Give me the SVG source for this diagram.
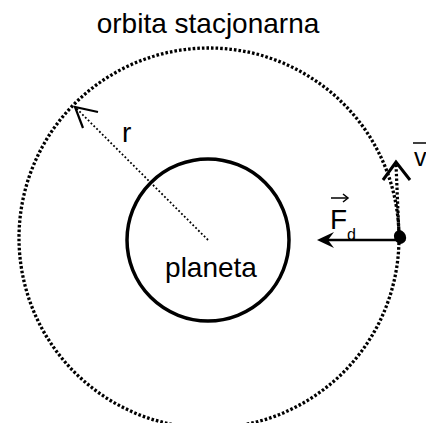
<svg xmlns="http://www.w3.org/2000/svg" width="426" height="423" viewBox="0 0 426 423">
<style>
text{font-family:"Liberation Sans",Arial,sans-serif;fill:#000}
.dots{fill:none;stroke:#000;stroke-linecap:butt}
.solid{fill:none;stroke:#000}
</style>
<rect width="426" height="423" fill="#fff"/>
<g id="orbit">
<circle cx="209" cy="238" r="190" class="dots" stroke-width="3.3" stroke-dasharray="2.6 2"/>
<text x="208" y="33" font-size="28" text-anchor="middle">orbita stacjonarna</text>
</g>
<g id="planet">
<circle cx="208" cy="240" r="81" class="solid" stroke-width="3.5"/>
<text x="211" y="277" font-size="28" text-anchor="middle">planeta</text>
</g>
<g id="connectors">
<g id="radius">
<line x1="208" y1="240" x2="76" y2="108" class="dots" stroke-width="1.8" stroke-dasharray="1.8 2.2"/>
<polyline points="98,112 75,107 83,128" class="solid" stroke-width="2.2"/>
<text x="122" y="142" font-size="28">r</text>
</g>
<g id="force">
<line x1="327" y1="240" x2="399" y2="240" class="solid" stroke-width="2.5"/>
<path d="M317,240 L334,232 L328,240 L334,248 Z" fill="#000"/>
<text x="330" y="229" font-size="28">F</text>
<text x="347" y="240" font-size="16">d</text>
<line x1="331" y1="198" x2="347" y2="198" class="solid" stroke-width="1.5"/>
<polyline points="343,194 348,198 343,202" class="solid" stroke-width="1.5"/>
</g>
<g id="velocity">
<line x1="399" y1="236" x2="396" y2="164" class="dots" stroke-width="3.2" stroke-dasharray="2.4 2.2"/>
<polyline points="383,180 396,162 410,180" class="solid" stroke-width="3"/>
<text x="414" y="166" font-size="25">v</text>
<line x1="413" y1="143" x2="426" y2="143" class="solid" stroke-width="1.5"/>
</g>
<ellipse cx="400" cy="237" rx="6" ry="7" fill="#000" transform="rotate(-20 400 237)"/>
</g>
</svg>
